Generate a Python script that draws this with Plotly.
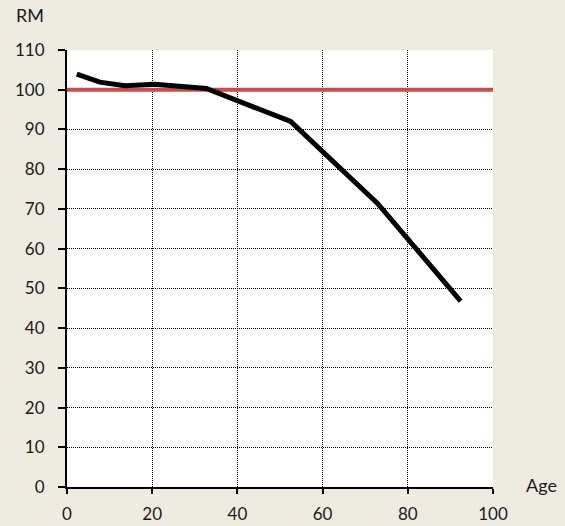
import plotly.graph_objects as go

# Data
age = [2.3, 7.7, 13.6, 20.6, 32.7, 52.5, 72.9, 92.4]
rm = [103.9, 101.9, 101.0, 101.4, 100.3, 92.0, 71.4, 46.8]
ref_x = [0, 100.5]
ref_y = [100, 100]
x_ticks = [0, 20, 40, 60, 80, 100]
y_ticks = [0, 10, 20, 30, 40, 50, 60, 70, 80, 90, 100, 110]

FONT = "Lato, 'Open Sans', sans-serif"
BG = "#EEECE1"

fig = go.Figure()
fig.add_trace(go.Scatter(x=ref_x, y=ref_y, mode="lines",
                         line=dict(color="#C0504D", width=4),
                         hoverinfo="skip", cliponaxis=False))
fig.add_trace(go.Scatter(x=age, y=rm, mode="lines",
                         line=dict(color="black", width=5)))

fig.update_layout(
    width=565, height=526,
    paper_bgcolor=BG, plot_bgcolor="white",
    showlegend=False,
    margin=dict(l=67, r=72, t=50, b=39, autoexpand=False),
    font=dict(family=FONT, size=17, color="#1a1a1a"),
)
fig.update_xaxes(
    range=[0, 100], tickvals=x_ticks, ticks="outside", ticklen=5,
    tickwidth=2, tickcolor="black",
    showline=True, linecolor="black", linewidth=2,
    showgrid=True, gridcolor="black", gridwidth=1, griddash="1px,1px",
    zeroline=False, ticklabelstandoff=6, automargin=False,
)
fig.update_yaxes(
    range=[0, 110], tickvals=y_ticks, ticks="outside", ticklen=7,
    tickwidth=2, tickcolor="black",
    showline=True, linecolor="black", linewidth=2,
    showgrid=True, gridcolor="black", gridwidth=1, griddash="1px,1px",
    zeroline=False, ticklabelstandoff=10, automargin=False,
)
fig.add_annotation(text="RM", xref="paper", yref="paper", x=-0.125, y=1.05,
                   xanchor="left", yanchor="bottom", showarrow=False,
                   font=dict(size=18))
fig.add_annotation(text="Age", xref="paper", yref="paper", x=1.073, y=0.005,
                   xanchor="left", yanchor="middle", showarrow=False,
                   font=dict(size=18))

fig.write_html(
    "out.html",
    config={"displayModeBar": False},
    post_script="document.body.style.margin='0';document.body.style.background='#EEECE1';document.body.style.overflow='hidden';",
)
